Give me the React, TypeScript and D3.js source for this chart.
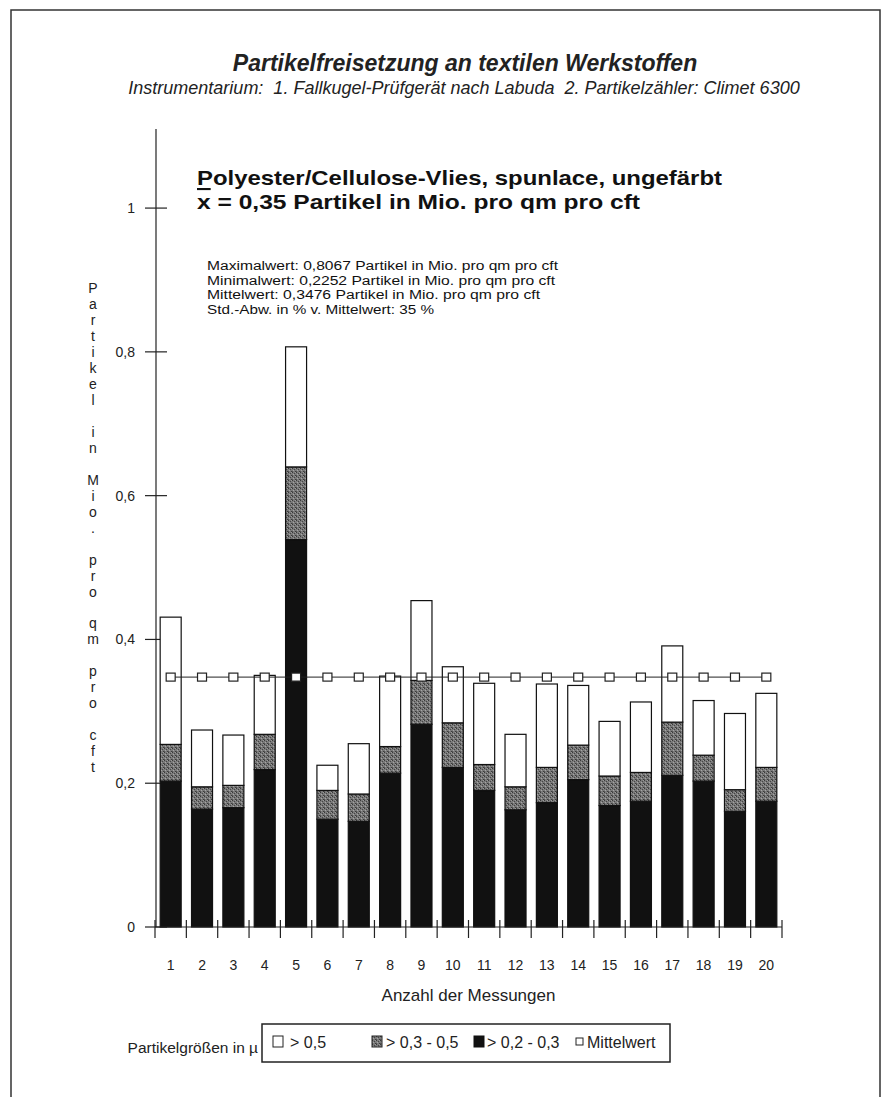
import * as d3 from "d3";

// Messungen 1..20
const categories = ["1", "2", "3", "4", "5", "6", "7", "8", "9", "10", "11", "12", "13", "14", "15", "16", "17", "18", "19", "20"];

// particle counts in Mio. per qm per cft, per size class (segment heights)
const fine = [0.203, 0.164, 0.166, 0.219, 0.539, 0.15, 0.147, 0.214, 0.282, 0.222, 0.19, 0.163, 0.173, 0.205, 0.169, 0.175, 0.211, 0.203, 0.161, 0.175]; // > 0,2 - 0,3
const medium = [0.051, 0.031, 0.031, 0.049, 0.101, 0.04, 0.038, 0.037, 0.061, 0.062, 0.036, 0.032, 0.049, 0.048, 0.041, 0.04, 0.074, 0.036, 0.03, 0.047]; // > 0,3 - 0,5
const coarse = [0.177, 0.079, 0.07, 0.082, 0.167, 0.035, 0.07, 0.098, 0.111, 0.078, 0.113, 0.073, 0.116, 0.083, 0.076, 0.098, 0.106, 0.076, 0.106, 0.103]; // > 0,5

const meanValue = 0.3476;
const yTicks = [0, 0.2, 0.4, 0.6, 0.8, 1];
const yLabel = "Partikel in Mio. pro qm pro cft";

const statLines = [
  "Maximalwert: 0,8067 Partikel in Mio. pro qm pro cft",
  "Minimalwert: 0,2252 Partikel in Mio. pro qm pro cft",
  "Mittelwert: 0,3476 Partikel in Mio. pro qm pro cft",
  "Std.-Abw. in % v. Mittelwert: 35 %",
];
// printed widths of the stat lines (the original font runs wide)
const statWidths = [351, 348, 333, 227];

const keys = ["fine", "medium", "coarse"] as const;
const fills: Record<string, string> = {
  fine: "#111",
  medium: "url(#mottle)",
  coarse: "#fff",
};

const W = 887;
const H = 1097;
const font = "'Liberation Sans', Arial, Helvetica, sans-serif";

export default function App() {
  const rows = categories.map((c, i) => ({
    cat: c,
    fine: fine[i],
    medium: medium[i],
    coarse: coarse[i],
  }));
  const series = d3.stack<any>().keys(keys as any)(rows);

  const x = d3
    .scaleBand()
    .domain(categories)
    .range([155, 782])
    .paddingInner(0.33)
    .paddingOuter(0.165);
  const y = d3.scaleLinear().domain([0, 1.11]).range([927, 129]);

  const x0 = x.range()[0];
  const boundaries = d3.range(categories.length + 1).map((i) => x0 + i * x.step());
  const fmt = (v: number) => String(v).replace(".", ",");
  const labelY = d3.scaleLinear().domain([4, 13]).range([y(0.8), y(0.6)]);
  const cx = (c: string) => (x(c) ?? 0) + x.bandwidth() / 2;

  return (
    <svg
      width={W}
      height={H}
      style={{ position: "absolute", left: 0, top: 0, background: "#fff" }}
      fontFamily={font}
    >
      <defs>
        <pattern id="mottle" width={4} height={4} patternUnits="userSpaceOnUse">
          <rect width={4} height={4} fill="#7a7a7a" />
          <rect x={0} y={0} width={1} height={1} fill="#3a3a3a" />
          <rect x={2} y={1} width={1} height={1} fill="#454545" />
          <rect x={1} y={2} width={1} height={1} fill="#a5a5a5" />
          <rect x={3} y={3} width={1} height={1} fill="#3c3c3c" />
          <rect x={3} y={0} width={1} height={1} fill="#999" />
          <rect x={0} y={3} width={1} height={1} fill="#555" />
        </pattern>
      </defs>

      {/* page frame */}
      <path d={`M11,${H + 5}V10H880V${H + 5}`} fill="none" stroke="#333" strokeWidth={1.5} />

      {/* header */}
      <text x={465} y={71} textAnchor="middle" fontSize={23} fontWeight="bold" fontStyle="italic" fill="#222">
        Partikelfreisetzung an textilen Werkstoffen
      </text>
      <text x={464} y={94} textAnchor="middle" fontSize={18} fontStyle="italic" fill="#222" style={{ whiteSpace: "pre" }}>
        {"Instrumentarium:  1. Fallkugel-Prüfgerät nach Labuda  2. Partikelzähler: Climet 6300"}
      </text>

      <text x={197} y={185} fontSize={21} fontWeight="bold" fill="#111" textLength={525} lengthAdjust="spacingAndGlyphs">
        Polyester/Cellulose-Vlies, spunlace, ungefärbt
      </text>
      <text x={197} y={209} fontSize={21} fontWeight="bold" fill="#111" textLength={443} lengthAdjust="spacingAndGlyphs">
        <tspan style={{ textDecoration: "overline" }}>x</tspan> = 0,35 Partikel in Mio. pro qm pro cft
      </text>

      {statLines.map((s, i) => (
        <text
          key={s}
          x={207}
          y={270 + i * 14.5}
          fontSize={12.5}
          fill="#111"
          textLength={statWidths[i]}
          lengthAdjust="spacingAndGlyphs"
        >
          {s}
        </text>
      ))}

      {/* y label, one letter per line */}
      {yLabel.split("").map((ch, i) => (
        <text key={i} x={93} y={labelY(i) + 5} textAnchor="middle" fontSize={14} fill="#222">
          {ch}
        </text>
      ))}

      {/* y axis */}
      <line x1={156} x2={156} y1={y(0)} y2={y.range()[1]} stroke="#222" strokeWidth={1.2} />
      {yTicks.map((t) => (
        <g key={t} transform={`translate(0,${y(t)})`}>
          <line x1={145} x2={167} stroke="#222" strokeWidth={1.2} />
          <text x={135} dy="0.35em" textAnchor="end" fontSize={14} fill="#222">
            {fmt(t)}
          </text>
        </g>
      ))}

      {/* stacked bars */}
      {series.map((s) => (
        <g key={s.key} fill={fills[s.key]} stroke="#111" strokeWidth={1.2}>
          {s.map((d, i) => (
            <rect
              key={i}
              x={x(categories[i])}
              width={x.bandwidth()}
              y={y(d[1])}
              height={y(d[0]) - y(d[1])}
            />
          ))}
        </g>
      ))}

      {/* x axis */}
      <line x1={x0} x2={boundaries[boundaries.length - 1]} y1={y(0)} y2={y(0)} stroke="#222" strokeWidth={1.2} />
      {boundaries.map((b, i) => (
        <line key={i} x1={b} x2={b} y1={y(0) - 7} y2={y(0) + 11} stroke="#222" strokeWidth={1.2} />
      ))}
      {categories.map((c) => (
        <text key={c} x={cx(c)} y={970} textAnchor="middle" fontSize={14} fill="#222">
          {c}
        </text>
      ))}
      <text x={(x0 + boundaries[boundaries.length - 1]) / 2} y={1001} textAnchor="middle" fontSize={17} fill="#222">
        Anzahl der Messungen
      </text>

      {/* mean line */}
      <line
        x1={cx(categories[0])}
        x2={cx(categories[categories.length - 1])}
        y1={y(meanValue)}
        y2={y(meanValue)}
        stroke="#222"
        strokeWidth={1}
      />
      {categories.map((c) => (
        <rect key={c} x={cx(c) - 4.5} y={y(meanValue) - 4} width={9} height={8} fill="#fff" stroke="#222" strokeWidth={1.2} />
      ))}

      {/* legend */}
      <text x={258} y={1053} textAnchor="end" fontSize={15.5} fill="#222">
        Partikelgrößen in µ
      </text>
      <rect x={262} y={1024} width={408} height={38} fill="none" stroke="#222" strokeWidth={1.5} />
      <rect x={273} y={1036} width={10} height={11} fill="#fff" stroke="#222" strokeWidth={1} />
      <text x={290} y={1048} fontSize={16} fill="#222">&gt; 0,5</text>
      <rect x={372} y={1036} width={10} height={11} fill="url(#mottle)" stroke="#222" strokeWidth={1} />
      <text x={386} y={1048} fontSize={16} fill="#222">&gt; 0,3 - 0,5</text>
      <rect x={474} y={1036} width={10} height={11} fill="#111" stroke="#111" strokeWidth={1} />
      <text x={487} y={1048} fontSize={16} fill="#222">&gt; 0,2 - 0,3</text>
      <rect x={576} y={1038} width={7} height={7} fill="#fff" stroke="#222" strokeWidth={1} />
      <text x={587} y={1048} fontSize={16} fill="#222">Mittelwert</text>
    </svg>
  );
}
